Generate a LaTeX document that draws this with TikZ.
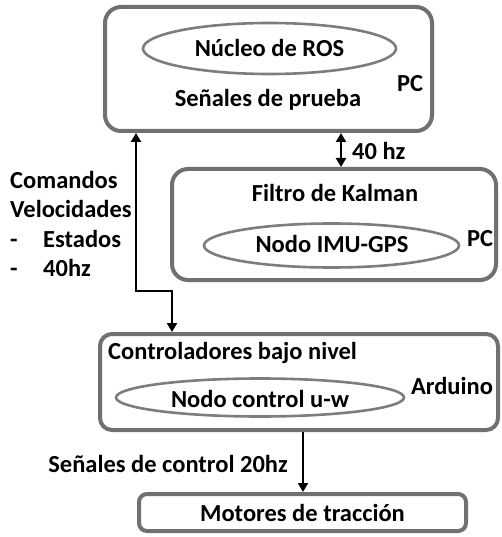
\documentclass[tikz,border=0pt]{standalone}
\usepackage{fontspec}
\setmainfont{Carlito}
\usetikzlibrary{arrows.meta,shapes.geometric}
\definecolor{boxgray}{RGB}{112, 112, 112}
\definecolor{ovalgray}{RGB}{125, 125, 125}
\tikzset{
  txt/.style={font=\fontsize{24.5}{29.4}\selectfont\bfseries, inner sep=0pt},
  block/.style={draw=boxgray, line width=4pt, rounded corners=#1, inner sep=0pt},
  block/.default=16pt,
  oval/.style={ellipse, draw=ovalgray, line width=2.6pt, inner sep=0pt},
  conn/.style={line width=2.2pt, -{Triangle[width=10pt,length=9pt]}},
  dconn/.style={line width=2.2pt, {Triangle[width=10pt,length=9pt]}-{Triangle[width=10pt,length=9pt]}}
}
\begin{document}
\begin{tikzpicture}[x=1pt,y=-1pt]
        %\draw[step=20,gray,very thin] (0,0) grid (501,537);
        \useasboundingbox (0,0) rectangle (501,537);
        \node[block, minimum width=327pt, minimum height=124pt] (pc) at (268.5,69) {};
        \node[oval, minimum width=253pt, minimum height=51pt] (nucleo) at (269.5,48.5) {};
        \node[txt] (ros) at (269.5,48) {Núcleo de ROS};
        \node[txt] (prueba) at (268,100) {Señales de prueba};
        \node[txt] (pc1) at (410,84) {PC};
        \node[block, minimum width=324pt, minimum height=111pt] (kalman) at (334,224.5) {};
        \node[txt] (filtro) at (335,193) {Filtro de Kalman};
        \node[oval, minimum width=255pt, minimum height=44pt] (imu) at (331.5,245.5) {};
        \node[txt] (imutxt) at (332,244) {Nodo IMU-GPS};
        \node[txt] (pc2) at (480,239) {PC};
        \node[block=12pt, minimum width=398pt, minimum height=96pt] (bajo) at (299,382) {};
        \node[txt, anchor=west] (ctrltxt) at (108,353) {Controladores bajo nivel};
        \node[txt] (arduino) at (452,386) {Arduino};
        \node[oval, minimum width=288pt, minimum height=38pt] (uw) at (260,397.5) {};
        \node[txt] (uwtxt) at (260,399) {Nodo control u-w};
        \node[block=8pt, minimum width=327pt, minimum height=37pt] (motores) at (302.5,512.5) {};
        \node[txt] (motxt) at (302.5,513) {Motores de tracción};
        % etiquetas
        \node[txt, anchor=west] (hz) at (352,151) {40 hz};
        \node[txt, anchor=base west] (cmd) at (10,189) {Comandos};
        \node[txt, anchor=base west] (vel) at (10,218) {Velocidades};
        \node[txt, anchor=base west] (est) at (10,247) {\makebox[33pt][l]{-}Estados};
        \node[txt, anchor=base west] (hz2) at (10,276) {\makebox[33pt][l]{-}40hz};
        \node[txt, anchor=east] (senal) at (288,464) {Señales de control 20hz};
        % conectores
        \coordinate (c1) at (136,291);
        \coordinate (c2) at (172,291);
        \coordinate (c3) at (341,150);
        \coordinate (c4) at (303,460);
        \draw[dconn] (pc.south -| c3) -- (kalman.north -| c3);
        \draw[dconn] (pc.south -| c1) -- (c1) -- (c2) -- (bajo.north -| c2);
        \draw[conn] (bajo.south -| c4) -- (motores.north -| c4);
      \end{tikzpicture}
\end{document}
